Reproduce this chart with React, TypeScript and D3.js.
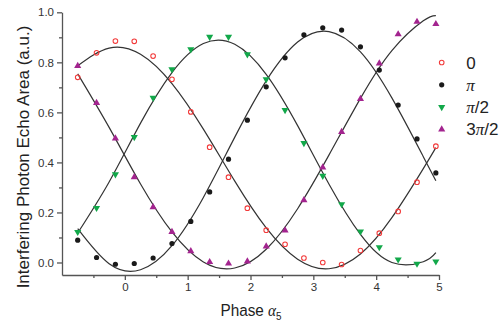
import React, { useRef, useEffect } from 'react';
import * as d3 from 'd3';

const width = 503;
const height = 323;
const plotLeft = 62;
const plotRight = 439;
const plotTop = 12.3;
const plotBottom = 275;

// measured phase positions (same for every series)
const phases = [-0.75, -0.45, -0.15, 0.15, 0.45, 0.75, 1.05, 1.35, 1.65, 1.95,
    2.25, 2.55, 2.85, 3.15, 3.45, 3.75, 4.05, 4.35, 4.65, 4.95];

const zeroValues = [0.74, 0.838, 0.885, 0.884, 0.825, 0.732, 0.602, 0.461, 0.341, 0.217,
    0.129, 0.073, 0.018, 0.0, -0.008, 0.048, 0.117, 0.204, 0.321, 0.465];
const piValues = [0.089, 0.02, -0.007, -0.004, 0.018, 0.076, 0.164, 0.282, 0.413, 0.569,
    0.702, 0.818, 0.91, 0.938, 0.929, 0.862, 0.769, 0.629, 0.494, 0.358];
const halfPiValues = [0.122, 0.218, 0.352, 0.501, 0.658, 0.772, 0.852, 0.902, 0.902, 0.832,
    0.732, 0.609, 0.477, 0.346, 0.233, 0.124, 0.061, 0.012, -0.005, 0.004];
const threeHalfPiValues = [0.786, 0.638, 0.496, 0.341, 0.221, 0.122, 0.045, 0.002, -0.004, 0.004,
    0.064, 0.128, 0.249, 0.38, 0.522, 0.654, 0.796, 0.912, 0.962, 0.953];

// points
const fitPhases = [-0.75, -0.25, 0.25, 0.75, 1.25, 1.75, 2.25, 2.75, 3.25, 3.75, 4.25, 4.75, 4.95];
const zeroFit = [0.786, 0.857, 0.832, 0.715, 0.533, 0.325, 0.138, 0.013, -0.025, 0.034, 0.179, 0.375, 0.459];
const piFit = [0.135, -0.005, -0.029, 0.067, 0.26, 0.501, 0.726, 0.881, 0.923, 0.842, 0.658, 0.423, 0.327];
const halfPiFit = [0.118, 0.322, 0.557, 0.759, 0.875, 0.872, 0.752, 0.547, 0.313, 0.112, 0.0, 0.003, 0.039];
const threeHalfPiFit = [0.754, 0.54, 0.314, 0.122, 0.002, -0.022, 0.053, 0.215, 0.43, 0.656, 0.847, 0.966, 0.987];

const yTicks = [0, 0.2, 0.4, 0.6, 0.8, 1.0];
const yMinorTicks = [0.1, 0.3, 0.5, 0.7, 0.9];
const xTicks = [0, 1, 2, 3, 4, 5];
const xMinorTicks = [-0.5, 0.5, 1.5, 2.5, 3.5, 4.5];

// legend labels split into [before π, π, after π]
const legendLabels = [['0', '', ''], ['', 'π', ''], ['', 'π', '/2'], ['3', 'π', '/2']];

const series = [
    { values: zeroValues, fit: zeroFit, kind: 'open', color: '#f23a3a' },
    { values: piValues, fit: piFit, kind: 'dot', color: '#1a1a1a' },
    { values: halfPiValues, fit: halfPiFit, kind: 'down', color: '#12a84a' },
    { values: threeHalfPiValues, fit: threeHalfPiFit, kind: 'up', color: '#a3248f' },
];

const sansFont = '"Liberation Sans", Arial, sans-serif';
const serifFont = '"Liberation Serif", "DejaVu Serif", serif';

const drawMarker = (sel, kind, color) => {
    if (kind === 'open') {
        sel.append('circle').attr('r', 2.3).attr('fill', 'none')
            .attr('stroke', color).attr('stroke-width', 1.1);
    } else if (kind === 'dot') {
        sel.append('circle').attr('r', 2.6).attr('fill', color);
    } else {
        sel.append('path')
            .attr('d', d3.symbol(d3.symbolTriangle, 22)())
            .attr('transform', kind === 'down' ? 'rotate(180)' : null)
            .attr('fill', color);
    }
};

const Visualization = ({ element }) => {
    const x = d3.scaleLinear([-1, 5], [plotLeft, plotRight]);
    const y = d3.scaleLinear([-0.05, 1.0], [plotBottom, plotTop]);

    const root = d3.select(element);
    root.selectAll('*').remove();

    // axes
    const yAxis = root.append('g').attr('transform', `translate(${plotLeft},0)`)
        .call(d3.axisLeft(y).tickValues(yTicks).tickFormat(d3.format('.1f'))
            .tickSize(5).tickSizeOuter(0).tickPadding(3));
    root.append('g').attr('transform', `translate(${plotLeft},0)`)
        .call(d3.axisLeft(y).tickValues(yMinorTicks).tickFormat(() => '')
            .tickSize(3).tickSizeOuter(0))
        .select('.domain').remove();

    const xAxis = root.append('g').attr('transform', `translate(0,${plotBottom})`)
        .call(d3.axisBottom(x).tickValues(xTicks).tickFormat(d3.format('d'))
            .tickSize(5).tickSizeOuter(0).tickPadding(3));
    root.append('g').attr('transform', `translate(0,${plotBottom})`)
        .call(d3.axisBottom(x).tickValues(xMinorTicks).tickFormat(() => '')
            .tickSize(3).tickSizeOuter(0))
        .select('.domain').remove();

    root.selectAll('.domain, .tick line')
        .attr('stroke', '#555').attr('stroke-width', 1.3);
    [yAxis, xAxis].forEach(axis => axis.selectAll('text')
        .attr('font-family', sansFont).attr('font-size', 11.5).attr('fill', '#333'));

    // fitted curves
    const line = d3.line().x(d => x(d[0])).y(d => y(d[1])).curve(d3.curveNatural);
    root.append('g').selectAll('path').data(series).join('path')
        .attr('d', s => line(fitPhases.map((p, i) => [p, s.fit[i]])))
        .attr('fill', 'none').attr('stroke', '#333').attr('stroke-width', 1.2);

    // measured points
    series.forEach(s => {
        root.append('g').selectAll('g').data(s.values).join('g')
            .attr('transform', (v, i) => `translate(${x(phases[i])},${y(v)})`)
            .each(function () { drawMarker(d3.select(this), s.kind, s.color); });
    });

    // legend
    const legend = root.append('g').selectAll('g').data(series).join('g')
        .attr('transform', (s, i) => `translate(441.7,${62.5 + i * 22.3})`);
    legend.each(function (s) { drawMarker(d3.select(this), s.kind, s.color); });
    const legendText = legend.append('text')
        .attr('x', 24.5).attr('y', 6)
        .attr('font-family', sansFont).attr('font-size', 17).attr('fill', '#222');
    legendText.append('tspan').text((s, i) => legendLabels[i][0]);
    legendText.append('tspan').attr('font-family', serifFont).attr('font-style', 'italic')
        .text((s, i) => legendLabels[i][1]);
    legendText.append('tspan').text((s, i) => legendLabels[i][2]);
};

const App = () => {
    const containerRef = useRef(null);

    useEffect(() => {
        if (containerRef.current) {
            Visualization({ element: containerRef.current });
        }
    }, []);

    return (
        <svg width={width} height={height}
            style={{ position: 'absolute', left: 0, top: 0, background: '#fff' }}>
            <g ref={containerRef} />
            <g transform="translate(251,316) scale(0.9,1)">
                <text textAnchor="middle" fontFamily={sansFont} fontSize={17} fill="#222">
                    Phase <tspan fontFamily={serifFont} fontStyle="italic">α</tspan>
                    <tspan fontSize={11} dy={4}>5</tspan>
                </text>
            </g>
            <text transform="translate(28.5,157) rotate(-90)" textAnchor="middle"
                fontFamily={sansFont} fontSize={17} fill="#222">
                Interfering Photon Echo Area (a.u.)
            </text>
        </svg>
    );
};

export default App;
